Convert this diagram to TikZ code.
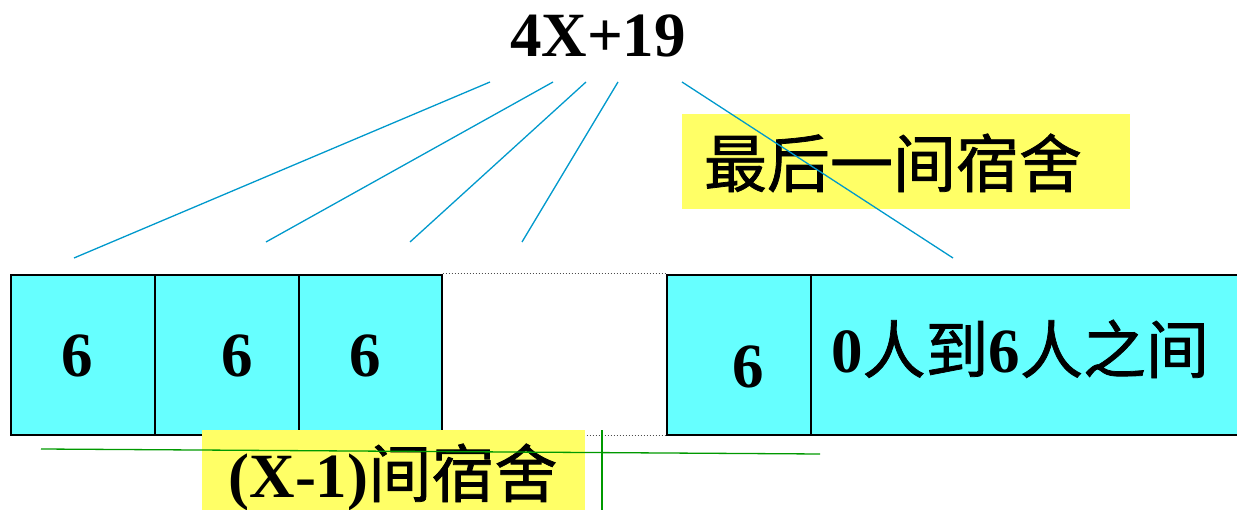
\documentclass[tikz,border=0pt]{standalone}
\usepackage{fontspec}
\setmainfont{Liberation Serif}
\newfontfamily\cjk[FakeBold=1.2]{Noto Sans CJK SC}
\definecolor{boxcyan}{RGB}{102,255,255}
\definecolor{hlyellow}{RGB}{255,255,102}
\definecolor{linkblue}{RGB}{0,153,204}
\definecolor{markgreen}{RGB}{0,153,0}
\tikzset{
  cell/.style={draw=black, line width=1.6pt, fill=boxcyan, inner sep=0pt, anchor=north west},
  hlbox/.style={fill=hlyellow, inner sep=0pt, anchor=north west},
  big/.style={font=\fontsize{63}{70}\selectfont\bfseries, inner sep=0pt, anchor=base},
  link/.style={draw=linkblue, line width=1.3pt},
  greenline/.style={draw=markgreen, line width=1.3pt},
  gap/.style={draw=black!70, dotted, line width=1pt}
}
\begin{document}
\begin{tikzpicture}[x=1pt,y=-1pt]
\useasboundingbox (0,0) rectangle (1237,510);
% highlight boxes
\node[hlbox, minimum width=448pt, minimum height=95pt] (lastbg) at (682,114) {};
% cells
\node[cell, minimum width=144pt, minimum height=160pt] (c1) at (10,274) {};
\node[cell, minimum width=144pt, minimum height=160pt] (c2) at (154,274) {};
\node[cell, minimum width=143pt, minimum height=160pt] (c3) at (298,274) {};
\node[cell, minimum width=144pt, minimum height=160pt] (c5) at (666,274) {};
\node[cell, minimum width=427pt, minimum height=160pt] (c6) at (810,274) {};
% dotted gap
\draw[gap] (c3.north east) -- (c5.north west);
\draw[gap] (c3.south east) -- (c5.south west);
% cell labels
\node[big] (t1) at (77,377) {6};
\node[big] (t2) at (237,377) {6};
\node[big] (t3) at (365,377) {6};
\node[big] (t5) at (748,388) {6};
\node[big] (t6) at (1020,373) {0{\mdseries\cjk 人到}6{\mdseries\cjk 人之间}};
% title
\node[big] (title) at (598,57) {4X+19};
% last-room label
\node[font=\fontsize{63}{70}\selectfont\cjk, inner sep=0pt, anchor=base] (last) at (893,187) {最后一间宿舍};
% bottom label
\node[hlbox, minimum width=383pt, minimum height=80pt] (xbg) at (202,430) {};
\node[big] (xlab) at (393,497) {(X-1){\mdseries\cjk 间宿舍}};
% blue links
\coordinate (a1) at (490,82); \coordinate (b1) at (74,258);
\coordinate (a2) at (553,82); \coordinate (b2) at (266,242);
\coordinate (a3) at (586,82); \coordinate (b3) at (410,242);
\coordinate (a4) at (618,82); \coordinate (b4) at (522,242);
\coordinate (a5) at (682,82); \coordinate (b5) at (953,258);
\draw[link] (a1) -- (b1);
\draw[link] (a2) -- (b2);
\draw[link] (a3) -- (b3);
\draw[link] (a4) -- (b4);
\draw[link] (a5) -- (b5);
% green marks
\coordinate (g1) at (41,449); \coordinate (g2) at (820,454);
\coordinate (v1) at (602,430); \coordinate (v2) at (602,510);
\draw[greenline] (g1) -- (g2);
\draw[greenline] (v1) -- (v2);
\end{tikzpicture}
\end{document}
